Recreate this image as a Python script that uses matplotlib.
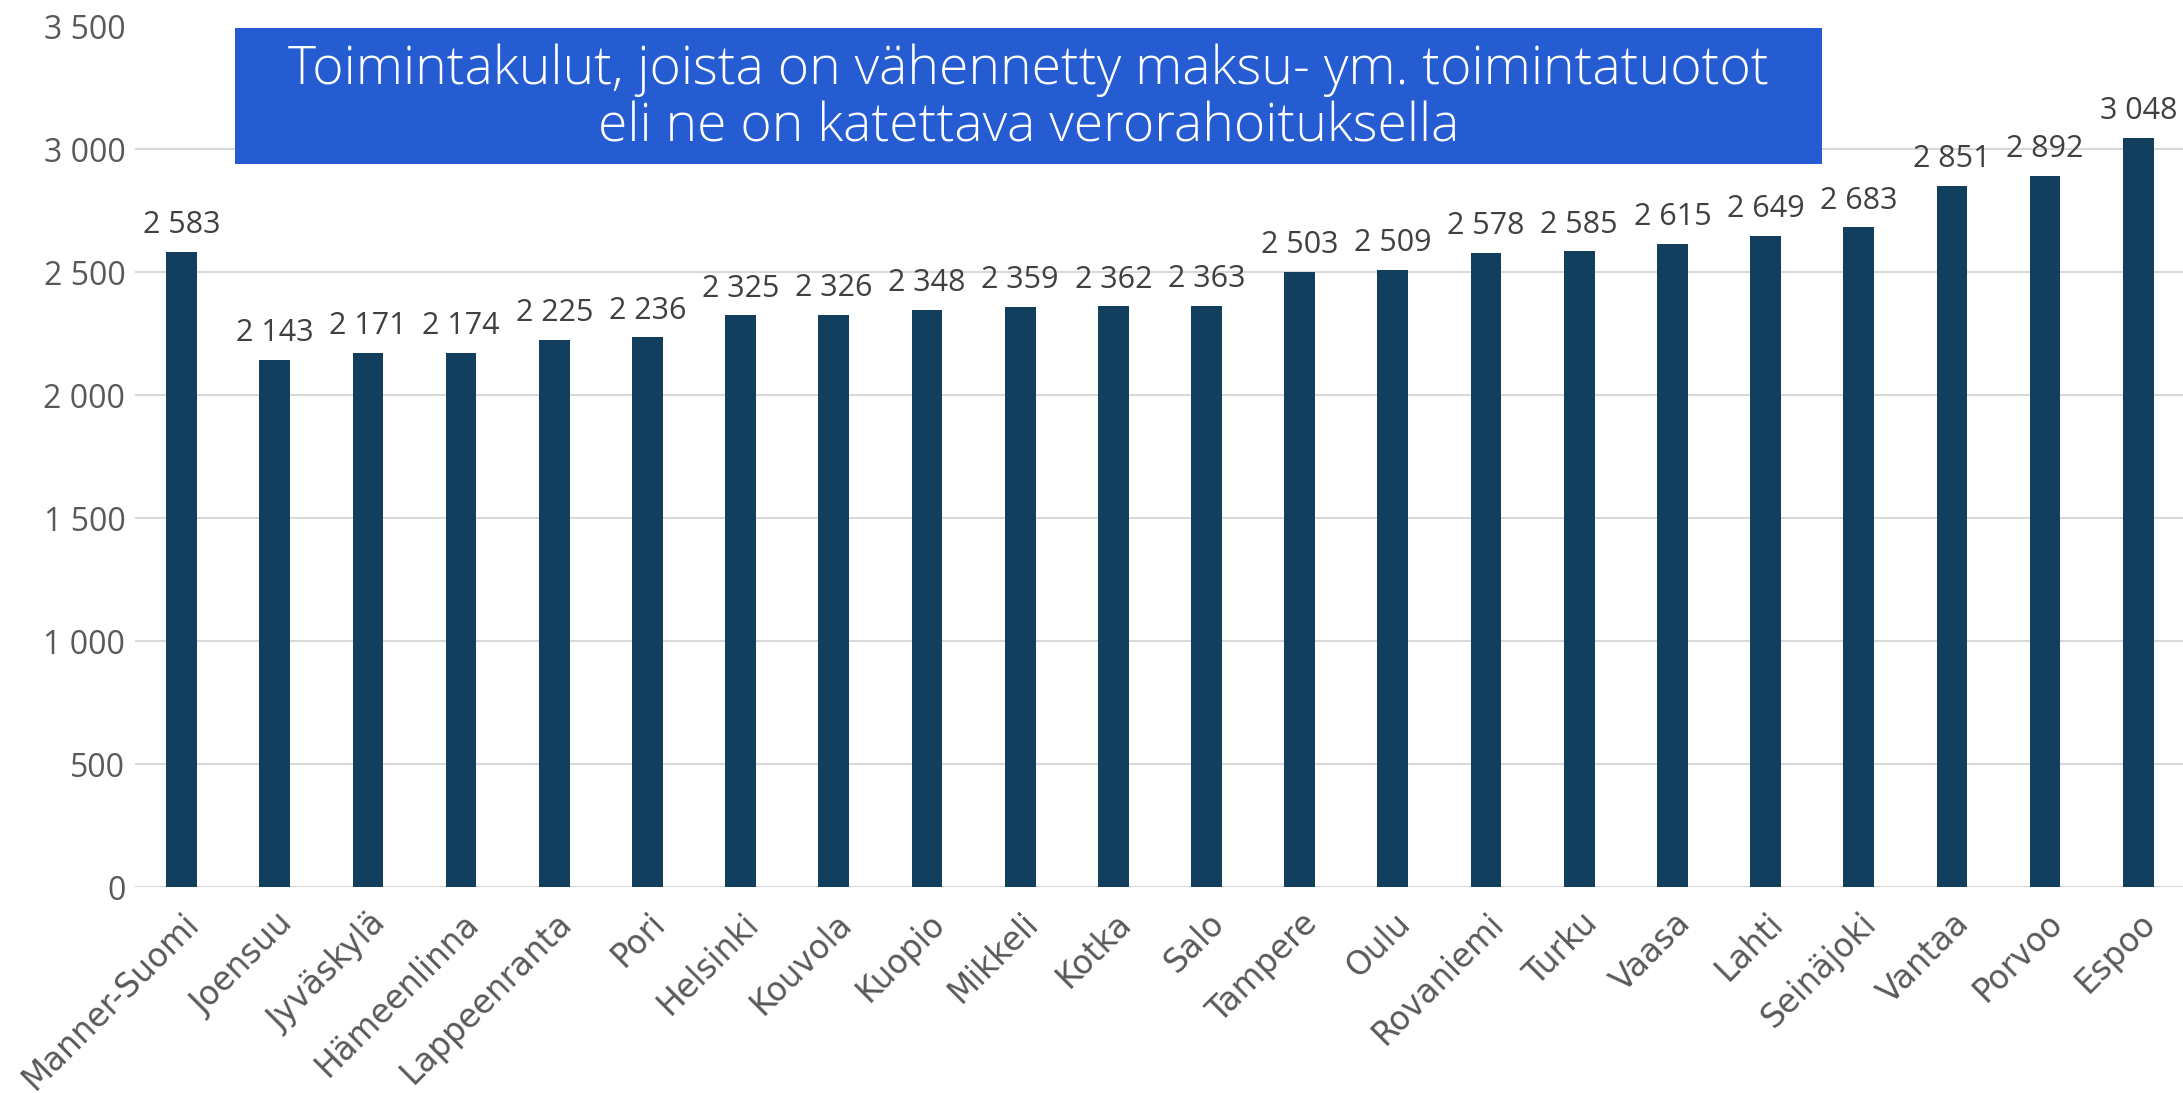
import matplotlib
matplotlib.use("Agg")
import matplotlib.pyplot as plt
from matplotlib.patches import Rectangle
import matplotlib.transforms as mtransforms

categories = ["Manner-Suomi", "Joensuu", "Jyväskylä", "Hämeenlinna", "Lappeenranta", "Pori",
              "Helsinki", "Kouvola", "Kuopio", "Mikkeli", "Kotka", "Salo", "Tampere", "Oulu",
              "Rovaniemi", "Turku", "Vaasa", "Lahti", "Seinäjoki", "Vantaa", "Porvoo", "Espoo"]
values = [2583, 2143, 2171, 2174, 2225, 2236, 2325, 2326, 2348, 2359, 2362, 2363,
          2503, 2509, 2578, 2585, 2615, 2649, 2683, 2851, 2892, 3048]
yticks = [0, 500, 1000, 1500, 2000, 2500, 3000, 3500]
title_lines = ["Toimintakulut, joista on vähennetty maksu- ym. toimintatuotot",
               "eli ne on katettava verorahoituksella"]

def fmt(v):
    return f"{v:,}".replace(",", " ")

W, H = 2183, 1093
fig = plt.figure(figsize=(W / 100, H / 100), dpi=100)
ax = fig.add_axes([135 / W, 1 - 887 / H, 1 - 135 / W, (887 - 26.5) / H])

bar_color = "#133F5F"
x = list(range(len(categories)))
ax.bar(x, values, width=0.33, color=bar_color, zorder=3)

for xi, v in zip(x, values):
    ax.annotate(fmt(v), (xi, v), xytext=(0, 13.5), textcoords="offset points",
                ha="center", va="baseline", fontsize=22, color="#404040", family="Open Sans")

ax.set_xlim(-0.5, 21.48)
ax.set_ylim(0, 3500)
ax.set_yticks(yticks)
ax.set_yticklabels([fmt(t) for t in yticks], fontsize=23, color="#595959", family="Open Sans")
ax.yaxis.grid(True, color="#D9D9D9", linewidth=1.5, zorder=0)
ax.set_axisbelow(True)
for s in ax.spines.values():
    s.set_visible(False)
ax.tick_params(axis="y", length=0, pad=7)
ax.tick_params(axis="x", length=0, pad=14)
ax.set_xticks(x)
ax.set_xticklabels(categories, rotation=45, ha="right", va="top", rotation_mode="anchor",
                   fontsize=23.5, color="#595959", family="DejaVu Sans")
offset = mtransforms.ScaledTranslation(1 / 100, 0, fig.dpi_scale_trans)
for lbl in ax.get_xticklabels():
    lbl.set_transform(lbl.get_transform() + offset)

# title box
x0, x1, y0, y1 = 235, 1822, 28, 164
fig.patches.append(Rectangle((x0 / W, 1 - y1 / H), (x1 - x0) / W, (y1 - y0) / H,
                             transform=fig.transFigure, facecolor="#265CD1",
                             edgecolor="none", zorder=5))
fig.text((x0 + x1) / 2 / W, 1 - 84 / H, title_lines[0], ha="center", va="baseline",
         color="white", fontsize=38.5, family="Open Sans", fontweight="light", zorder=6)
fig.text((x0 + x1) / 2 / W, 1 - 142 / H, title_lines[1], ha="center", va="baseline",
         color="white", fontsize=38.5, family="Open Sans", fontweight="light", zorder=6)

fig.savefig("out.png", dpi=100)
